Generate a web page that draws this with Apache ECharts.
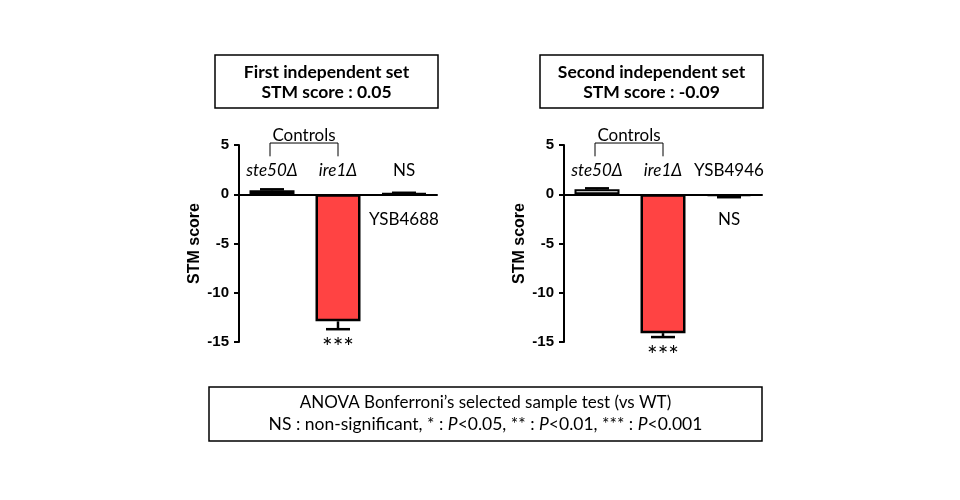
<!DOCTYPE html>
<html><head><meta charset="utf-8">
<script src="https://cdn.jsdelivr.net/npm/echarts@6/dist/echarts.min.js"></script>
<style>html,body{margin:0;padding:0;background:#fff}#c{width:960px;height:500px}</style>
</head><body><div id="c"></div>
<script>
// ---- data ----
const categories1 = ['ste50Δ', 'ire1Δ', 'YSB4688'];
const categories2 = ['ste50Δ', 'ire1Δ', 'YSB4946'];
const set1Values = [0.4, -12.9, 0.1];
const set1Errors = [0.1, 0.8, 0.05];
const set2Values = [0.5, -14.1, -0.2];
const set2Errors = [0.1, 0.4, 0.1];
const yTickValues = [-15, -10, -5, 0, 5];
const set1Title = ['First independent set', 'STM score : 0.05'];
const set2Title = ['Second independent set', 'STM score : -0.09'];
const set1Significance = ['', '***', 'NS'];
const set2Significance = ['', '***', 'NS'];
const controlsLabel = 'Controls';
const footnoteLines = ['ANOVA Bonferroni\u2019s selected sample test (vs WT)',
  'NS : non-significant, * : {i|P}<0.05, ** : {i|P}<0.01, *** : {i|P}<0.001'];

// ---- styling ----
const barColors = ['#ffffff', '#ff4343', '#ffffff'];
const TXT = 'Lato, "Open Sans", sans-serif';
const AX = '"Liberation Sans", Arial, sans-serif';

// annotation anchors: [category index, value, text, italic]
const annot1 = [
  [0, 2.45, categories1[0], true],
  [1, 2.45, categories1[1], true],
  [2, 2.45, set1Significance[2], false],
  [2, -2.55, categories1[2], false],
  [1, -15.6, set1Significance[1], false, 'star']
];
const annot2 = [
  [0, 2.45, categories2[0], true],
  [1, 2.45, categories2[1], true],
  [2, 2.45, categories2[2], false],
  [2, -2.55, set2Significance[2], false],
  [1, -16.4, set2Significance[1], false, 'star']
];

function grid(left) { return { left: left, top: 145, width: 198, height: 197 }; }
function xAxis(i, cats) {
  return {
    type: 'category', gridIndex: i, data: cats,
    axisLine: { onZero: true, lineStyle: { color: '#000', width: 2 } },
    axisTick: { alignWithLabel: true, length: 4, lineStyle: { color: '#000', width: 2 } },
    axisLabel: { show: false }, splitLine: { show: false }
  };
}
function yAxis(i) {
  return {
    type: 'value', gridIndex: i, min: yTickValues[0], max: yTickValues[yTickValues.length - 1], interval: 5,
    name: 'STM score', nameLocation: 'middle', nameGap: 36,
    nameTextStyle: { fontFamily: AX, fontWeight: 'bold', fontSize: 16, color: '#000' },
    axisLine: { show: true, lineStyle: { color: '#000', width: 2 } },
    axisTick: { show: true, length: 5, lineStyle: { color: '#000', width: 2 } },
    axisLabel: { fontFamily: AX, fontWeight: 'bold', fontSize: 15, color: '#000', margin: 10 },
    splitLine: { show: false }
  };
}
function bars(i, vals) {
  return {
    type: 'bar', xAxisIndex: i, yAxisIndex: i, barWidth: 45,
    data: vals.map((v, k) => ({ value: v, itemStyle: { color: barColors[k], borderColor: '#000', borderWidth: k === 1 ? 2.5 : 2 } }))
  };
}
function errs(i, vals, es) {
  return {
    type: 'custom', xAxisIndex: i, yAxisIndex: i, clip: false, z: 5,
    data: vals.map((v, k) => [k, v, es[k]]),
    renderItem: function (params, api) {
      const x = api.value(0), v = api.value(1), e = api.value(2);
      const s = v >= 0 ? 1 : -1;
      const p0 = api.coord([x, v]);
      const p1 = api.coord([x, v + s * e]);
      const st = { stroke: '#000', lineWidth: 2.5 };
      return { type: 'group', children: [
        { type: 'line', shape: { x1: p0[0], y1: p0[1], x2: p1[0], y2: p1[1] }, style: st },
        { type: 'line', shape: { x1: p1[0] - 12, y1: p1[1], x2: p1[0] + 12, y2: p1[1] }, style: st }
      ] };
    }
  };
}
function annots(i, list) {
  return {
    type: 'custom', xAxisIndex: i, yAxisIndex: i, clip: false, z: 6,
    data: list.map(a => [a[0], a[1]]),
    renderItem: function (params, api) {
      const a = list[params.dataIndex];
      const p = api.coord([api.value(0), api.value(1)]);
      const star = a[4] === 'star';
      return { type: 'text', x: p[0], y: p[1], style: {
        text: a[2], align: 'center', verticalAlign: 'middle',
        font: (a[3] ? 'italic ' : '') + (star ? '25px ' : '17px ') + TXT, fill: '#000'
      } };
    }
  };
}
function bracket(i) {
  return {
    type: 'custom', xAxisIndex: i, yAxisIndex: i, clip: false, z: 6,
    data: [[0, 1]],
    renderItem: function (params, api) {
      const a = api.coord([0, 3.85]), b = api.coord([0, 5.2]);
      const c = api.coord([1, 5.2]), d = api.coord([1, 3.85]);
      const t = api.coord([0, 6.0]), t2 = api.coord([1, 6.0]);
      return { type: 'group', children: [
        { type: 'polyline', shape: { points: [[a[0] - 2, a[1]], [b[0] - 2, b[1]], [c[0], c[1]], [d[0], d[1]]] },
          style: { stroke: '#000', lineWidth: 1, fill: null } },
        { type: 'text', x: (t[0] + t2[0]) / 2 - 1, y: t[1], style: { text: controlsLabel, align: 'center', verticalAlign: 'middle', font: '17px ' + TXT, fill: '#000' } }
      ] };
    }
  };
}
function titleBox(x, w, lines) {
  return [
    { type: 'rect', shape: { x: x, y: 55, width: w, height: 53 }, style: { fill: '#fff', stroke: '#000', lineWidth: 1.5 } },
    { type: 'text', x: x + w / 2, y: 72, style: { text: lines[0], align: 'center', verticalAlign: 'middle', font: 'bold 17.5px ' + TXT, fill: '#000' } },
    { type: 'text', x: x + w / 2, y: 92, style: { text: lines[1], align: 'center', verticalAlign: 'middle', font: 'bold 17.5px ' + TXT, fill: '#000' } }
  ];
}

const chart = echarts.init(document.getElementById('c'));
chart.setOption({
  animation: false,
  backgroundColor: '#fff',
  grid: [grid(239), grid(564)],
  xAxis: [xAxis(0, categories1), xAxis(1, categories2)],
  yAxis: [yAxis(0), yAxis(1)],
  series: [
    bars(0, set1Values), errs(0, set1Values, set1Errors), annots(0, annot1), bracket(0),
    bars(1, set2Values), errs(1, set2Values, set2Errors), annots(1, annot2), bracket(1)
  ],
  graphic: [].concat(
    titleBox(215, 223, set1Title),
    titleBox(540, 223, set2Title),
    [
      { type: 'rect', shape: { x: 209, y: 387, width: 553, height: 54 }, style: { fill: '#fff', stroke: '#000', lineWidth: 1.5 } },
      { type: 'text', x: 485.5, y: 403, style: { text: footnoteLines[0], align: 'center', verticalAlign: 'middle', font: '17px ' + TXT, fill: '#000' } },
      { type: 'text', x: 485.5, y: 424, style: { text: footnoteLines[1], align: 'center', verticalAlign: 'middle', font: '17.5px ' + TXT, fill: '#000',
        rich: { i: { fontStyle: 'italic', fontSize: 17.5, fontFamily: 'Lato', fill: '#000' } } } }
    ]
  )
});
</script></body></html>
